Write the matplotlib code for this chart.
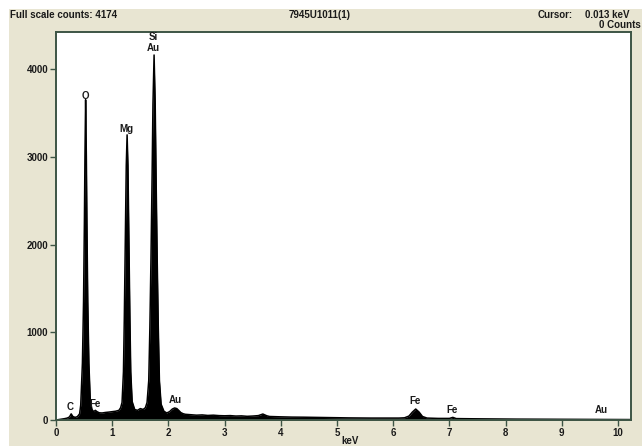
import matplotlib
matplotlib.use("Agg")
import matplotlib.pyplot as plt
from matplotlib.patches import Rectangle

# ---- data ----
energy = [0.00, 0.05, 0.10, 0.15, 0.20, 0.24, 0.27, 0.30, 0.34, 0.38, 0.42,
          0.44, 0.47, 0.49, 0.505, 0.515, 0.527, 0.54, 0.55, 0.565, 0.585, 0.61, 0.64,
          0.67, 0.70, 0.73, 0.77, 0.82, 0.88, 0.94, 1.00, 1.06, 1.12, 1.15,
          1.175, 1.20, 1.215, 1.235, 1.25, 1.265, 1.28, 1.295, 1.315, 1.33, 1.355,
          1.40, 1.45, 1.50, 1.55, 1.59,
          1.62, 1.65, 1.67, 1.69, 1.71, 1.725, 1.745, 1.765, 1.78, 1.80, 1.82, 1.84, 1.87,
          1.92, 1.97, 2.02, 2.07, 2.11, 2.15, 2.19, 2.22, 2.26, 2.30,
          2.4, 2.5, 2.6, 2.7, 2.8, 2.9, 3.0, 3.1, 3.2, 3.3, 3.4, 3.5, 3.6, 3.68, 3.75,
          3.8, 3.9, 4.0, 4.2, 4.4, 4.6, 4.8, 5.0, 5.2, 5.4, 5.6, 5.8, 6.0, 6.1, 6.2,
          6.28, 6.34, 6.40, 6.46, 6.52, 6.6, 6.8, 7.0, 7.06, 7.12, 7.4, 7.8, 8.2,
          8.6, 9.0, 9.4, 9.8, 10.23]
counts = [0, 5, 10, 15, 22, 35, 70, 40, 30, 38, 70,
          170, 650, 1350, 2250, 3000, 3650, 3000, 2250, 1350, 650, 220, 120,
          95, 110, 95, 82, 80, 86, 90, 95, 100, 110, 140,
          200, 550, 1150, 2150, 2900, 3250, 2900, 2150, 1150, 550, 210,
          120, 110, 130, 120, 140,
          200, 450, 1050, 1850, 2800, 3600, 4160, 3600, 2800, 1850, 1050, 450, 180,
          100, 80, 95, 125, 137, 130, 105, 85, 72, 65,
          60, 55, 58, 52, 55, 50, 48, 50, 45, 47, 42, 45, 50, 68, 48,
          40, 38, 36, 33, 32, 30, 28, 26, 24, 23, 22, 22, 22, 22, 25,
          45, 90, 125, 90, 40, 22, 18, 18, 30, 16, 14, 12, 10,
          9, 8, 7, 6, 5]

label_text = ["C", "O", "Fe", "Mg", "Si", "Au", "Au", "Fe", "Fe", "Au"]
label_x = [0.25, 0.52, 0.69, 1.26, 1.74, 1.74, 2.13, 6.39, 7.05, 9.70]
label_y = [148, 3690, 182, 3316, 4365, 4240, 228, 216, 114, 114]

xticks = list(range(0, 11))
yticks = [0, 1000, 2000, 3000, 4000]

# ---- figure ----
W, H = 642, 446
fig = plt.figure(figsize=(W / 100, H / 100), dpi=100)
fig.patch.set_facecolor("white")
beige = "#e8e5d2"
fig.add_artist(Rectangle((9 / W, 0), 1 - 9 / W, 1 - 9 / H, transform=fig.transFigure,
                         facecolor=beige, edgecolor="none", zorder=-10))

fam = ["Liberation Sans Narrow", "Liberation Sans", "DejaVu Sans"]
fs = 7
tcol = "#1a1a1a"

ax = fig.add_axes([56 / W, (H - 420) / H, (631 - 56) / W, (420 - 32) / H])
ax.set_facecolor("white")
ax.fill_between(energy, counts, 0, color="black", linewidth=0)
ax.plot(energy, counts, color="black", linewidth=1.1)
ax.set_xlim(0, 10.23)
ax.set_ylim(0, 4422)
ax.set_xticks(xticks)
ax.set_yticks(yticks)
ax.tick_params(direction="out", length=4, width=1, color="#3d5545", pad=1.5)
for lab in ax.get_xticklabels() + ax.get_yticklabels():
    lab.set_fontfamily(fam)
    lab.set_fontweight("bold")
    lab.set_fontsize(fs)
    lab.set_color(tcol)
for sp in ax.spines.values():
    sp.set_color("#3d5545")
    sp.set_linewidth(1.4)

for t, x, y in zip(label_text, label_x, label_y):
    ax.text(x, y, t, ha="center", va="center", fontsize=fs, fontweight="bold",
            family=fam, color=tcol)

fig.text(350 / W, 0.0, "keV", ha="center", va="bottom", fontsize=fs,
         fontweight="bold", family=fam, color=tcol)

hy = (H - 15) / H
fig.text(10 / W, hy, "Full scale counts: 4174", ha="left", va="center", fontsize=fs,
         fontweight="bold", family=fam, color=tcol)
fig.text(320 / W, hy, "7945U1011(1)", ha="center", va="center", fontsize=fs,
         fontweight="bold", family=fam, color=tcol)
fig.text(538 / W, hy, "Cursor:", ha="left", va="center", fontsize=fs,
         fontweight="bold", family=fam, color=tcol)
fig.text(585 / W, hy, "0.013 keV", ha="left", va="center", fontsize=fs,
         fontweight="bold", family=fam, color=tcol)
fig.text(641 / W, (H - 25) / H, "0 Counts", ha="right", va="center", fontsize=fs,
         fontweight="bold", family=fam, color=tcol)

fig.savefig("out.png", dpi=100, facecolor=fig.get_facecolor())
